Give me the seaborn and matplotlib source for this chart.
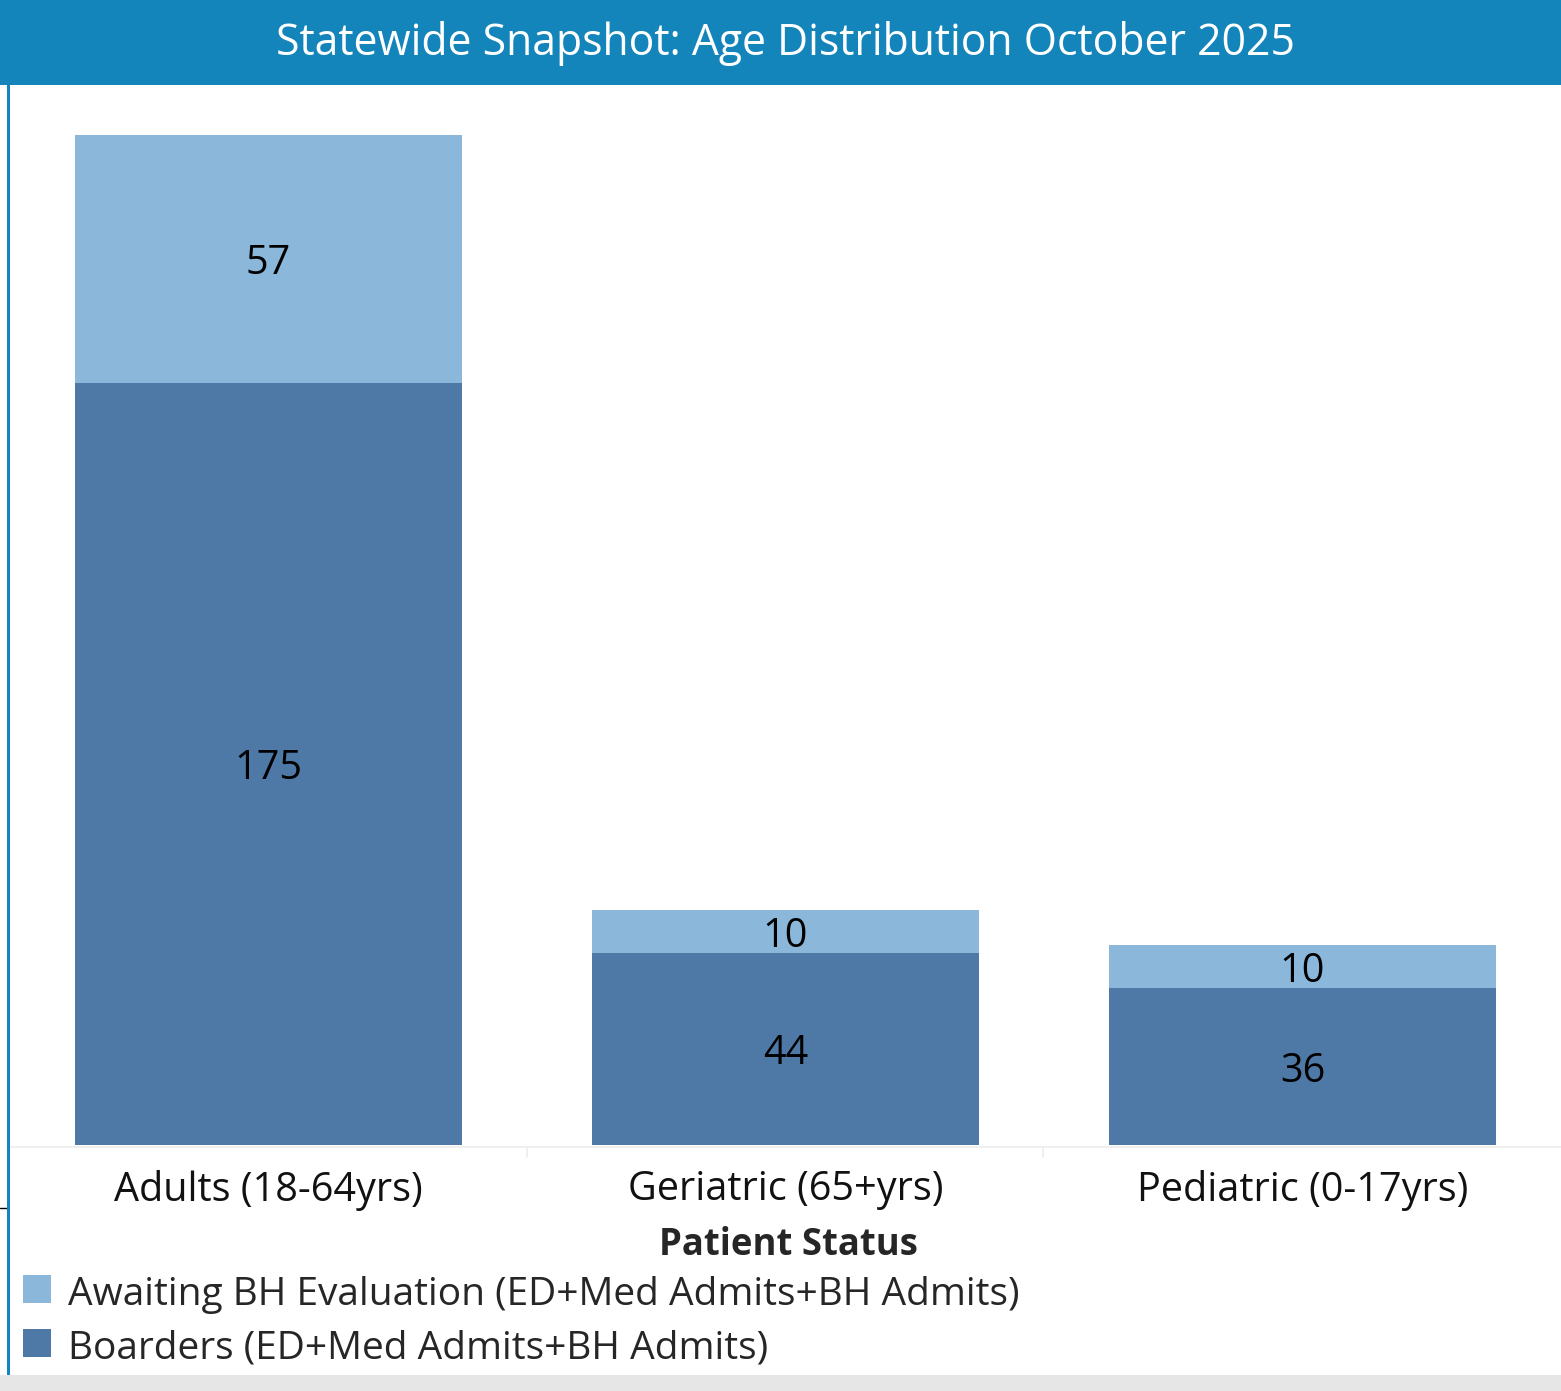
import matplotlib
matplotlib.use("Agg")
import matplotlib.pyplot as plt
import seaborn as sns
import pandas as pd
from matplotlib.patches import Rectangle
from matplotlib.lines import Line2D

categories = ["Adults (18-64yrs)", "Geriatric (65+yrs)", "Pediatric (0-17yrs)"]
boarders = [175, 44, 36]
awaiting = [57, 10, 10]
series_names = ["Awaiting BH Evaluation (ED+Med Admits+BH Admits)",
                "Boarders (ED+Med Admits+BH Admits)"]
title = "Statewide Snapshot: Age Distribution October 2025"
x_title = "Patient Status"

LIGHT = "#8AB7DA"
DARK = "#4E79A7"
BAR = "#1485BA"

sns.set_theme(style="white")
plt.rcParams['font.family'] = ['Open Sans', 'DejaVu Sans']

W, H = 1561, 1391
fig = plt.figure(figsize=(W / 100, H / 100), dpi=100)

def fx(px):
    return px / W

def fy(py):
    return 1 - py / H

# title bar
fig.patches.append(Rectangle((0, fy(85)), 1, 85 / H, transform=fig.transFigure,
                             facecolor=BAR, edgecolor="none", zorder=0))
fig.text(fx(785), fy(43), title, ha="center", va="center", color="white", fontsize=30.8)
# bottom gray strip
fig.patches.append(Rectangle((0, 0), 1, 16 / H, transform=fig.transFigure,
                             facecolor="#E6E6E6", edgecolor="none", zorder=0))
# left blue border
fig.patches.append(Rectangle((fx(7), 16 / H), 3 / W, (1375 - 85) / H, transform=fig.transFigure,
                             facecolor=BAR, edgecolor="none", zorder=3))
# small black tick on left
fig.add_artist(Line2D([0, fx(7)], [fy(1208), fy(1208)], color="black", lw=1, transform=fig.transFigure))
# baseline divider and separators
fig.add_artist(Line2D([fx(10), 1], [fy(1147), fy(1147)], color="#ECECEC", lw=1.2, transform=fig.transFigure))
for sx in (527, 1043):
    fig.add_artist(Line2D([fx(sx), fx(sx)], [fy(1147), fy(1157)], color="#ECECEC", lw=1.2,
                          transform=fig.transFigure))

ax = fig.add_axes([fx(10), fy(1145), 1551 / W, (1145 - 85) / H])
df = pd.DataFrame({"cat": categories, "boarders": boarders, "awaiting": awaiting})
df["total"] = df["boarders"] + df["awaiting"]

sns.barplot(data=df, x="cat", y="total", color=LIGHT, saturation=1, width=0.75, ax=ax,
            zorder=2, linewidth=0, edgecolor="none")
sns.barplot(data=df, x="cat", y="boarders", color=DARK, saturation=1, width=0.75, ax=ax,
            zorder=2, linewidth=0, edgecolor="none")

for i, (b, a) in enumerate(zip(boarders, awaiting)):
    ax.text(i, b / 2, str(b), ha="center", va="center_baseline", fontsize=28.5, color="black")
    ax.text(i, b + a / 2, str(a), ha="center", va="center_baseline", fontsize=28.5, color="black")

ax.set_xlim(-0.5, 2.5)
ax.set_ylim(0, 243.5)
ax.set_yticks([])
ax.set_ylabel("")
ax.set_xlabel("")
ax.tick_params(axis="x", length=0, pad=18, labelsize=28.5, labelcolor="#111111")
for s in ax.spines.values():
    s.set_visible(False)

fig.text(fx(788), fy(1245), x_title, ha="center", va="center", fontsize=26.3, fontweight="bold")

# legend
for j, (name, col) in enumerate(zip(series_names, [LIGHT, DARK])):
    y0 = 1275 + j * 54
    fig.patches.append(Rectangle((fx(23), fy(y0 + 28)), 28 / W, 28 / H, transform=fig.transFigure,
                                 facecolor=col, edgecolor="none"))
    fig.text(fx(68), fy(y0 + 20), name, ha="left", va="center", fontsize=28)

fig.savefig("out.png", dpi=100, facecolor="white")
